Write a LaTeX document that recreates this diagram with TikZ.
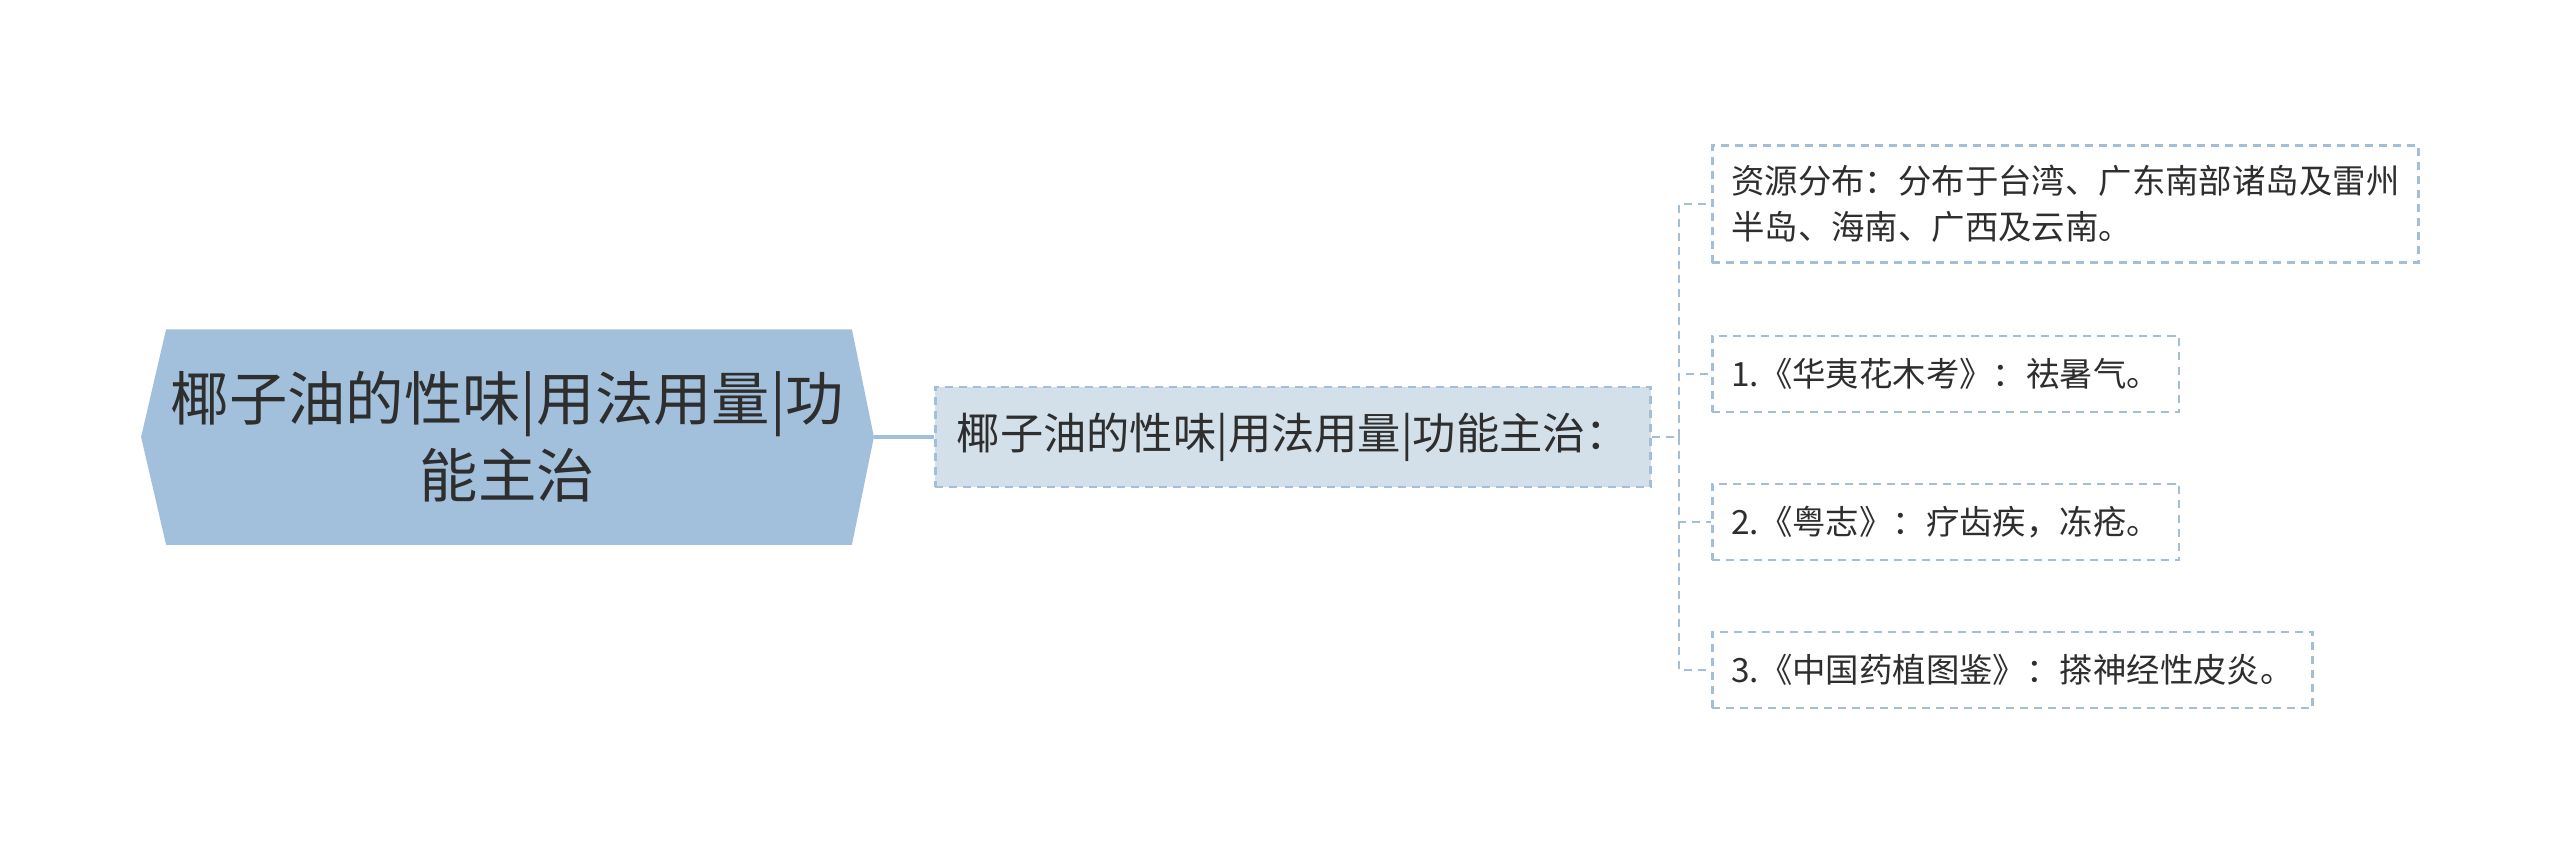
\documentclass[tikz,border=0pt]{standalone}
\usepackage{fontspec}
\setmainfont{Noto Sans CJK SC}
\usepackage{xcolor}
\usepackage{tikz}
\usetikzlibrary{
    positioning,
    calc
}
\definecolor{rootblue}{HTML}{A2BFDB}
\definecolor{subfill}{HTML}{D3DFE9}
\definecolor{lineblue}{HTML}{A3BED8}
\definecolor{inkgrey}{HTML}{2E2E2E}
\tikzset{%
   rootn/.style={
      inner sep=0mm,
      minimum width=7.31cm,
      minimum height=2.14cm,
      align=center,
      text=inkgrey,
      font=\fontsize{16.6}{22}\selectfont
   },
   subn/.style={
      draw=lineblue,
      fill=subfill,
      dash pattern=on 0.08cm off 0.06cm,
      line width=0.025cm,
      inner sep=0mm,
      minimum width=7.15cm,
      minimum height=1.0cm,
      text=inkgrey,
      font=\fontsize{12.3}{15}\selectfont
   },
   leafn/.style={
      draw=lineblue,
      dash pattern=on 0.08cm off 0.06cm,
      line width=0.025cm,
      inner xsep=0.19cm,
      inner ysep=0.2cm,
      minimum height=0.76cm,
      align=left,
      text=inkgrey,
      font=\fontsize{9.5}{13}\selectfont
   },
   link/.style={
      draw=lineblue,
      line width=0.04cm
   },
   dlink/.style={
      draw=lineblue,
      line width=0.025cm,
      dash pattern=on 0.08cm off 0.06cm
   }
}

\begin{document}
\begin{tikzpicture}[x=0.01cm, y=-0.01cm]
   \useasboundingbox (0,0) rectangle (2560,853);
   % root
   \node[rootn] (root) at (507.5,437) {};
   \fill[rootblue] (root.west) -- ([xshift=0.25cm]root.north west)
      -- ([xshift=-0.22cm]root.north east) -- (root.east)
      -- ([xshift=-0.22cm]root.south east) -- ([xshift=0.25cm]root.south west)
      -- cycle;
   \node[rootn] (T) at (root) {椰子油的性味|用法用量|功\\能主治};
   % sub topic
   \node[subn, anchor=west] (sub) at (934,437) {椰子油的性味|用法用量|功能主治：};
   \draw[link] (root.east) -- (sub.west);
   % leaves
   \node[leafn, anchor=west] (src) at (1711,204)
      {资源分布：分布于台湾、广东南部诸岛及雷州\\半岛、海南、广西及云南。};
   \node[leafn, anchor=west] (hy) at (1711,374) {1.《华夷花木考》：祛暑气。};
   \node[leafn, anchor=west] (yz) at (1711,522) {2.《粤志》：疗齿疾，冻疮。};
   \node[leafn, anchor=west] (zg) at (1711,670) {3.《中国药植图鉴》：搽神经性皮炎。};
   \coordinate (fork) at (1679,437);
   \draw[dlink] (sub.east) -- (fork);
   \draw[dlink] (fork) |- (src.west);
   \draw[dlink] (fork) |- (hy.west);
   \draw[dlink] (fork) |- (yz.west);
   \draw[dlink] (fork) |- (zg.west);
\end{tikzpicture}
\end{document}
